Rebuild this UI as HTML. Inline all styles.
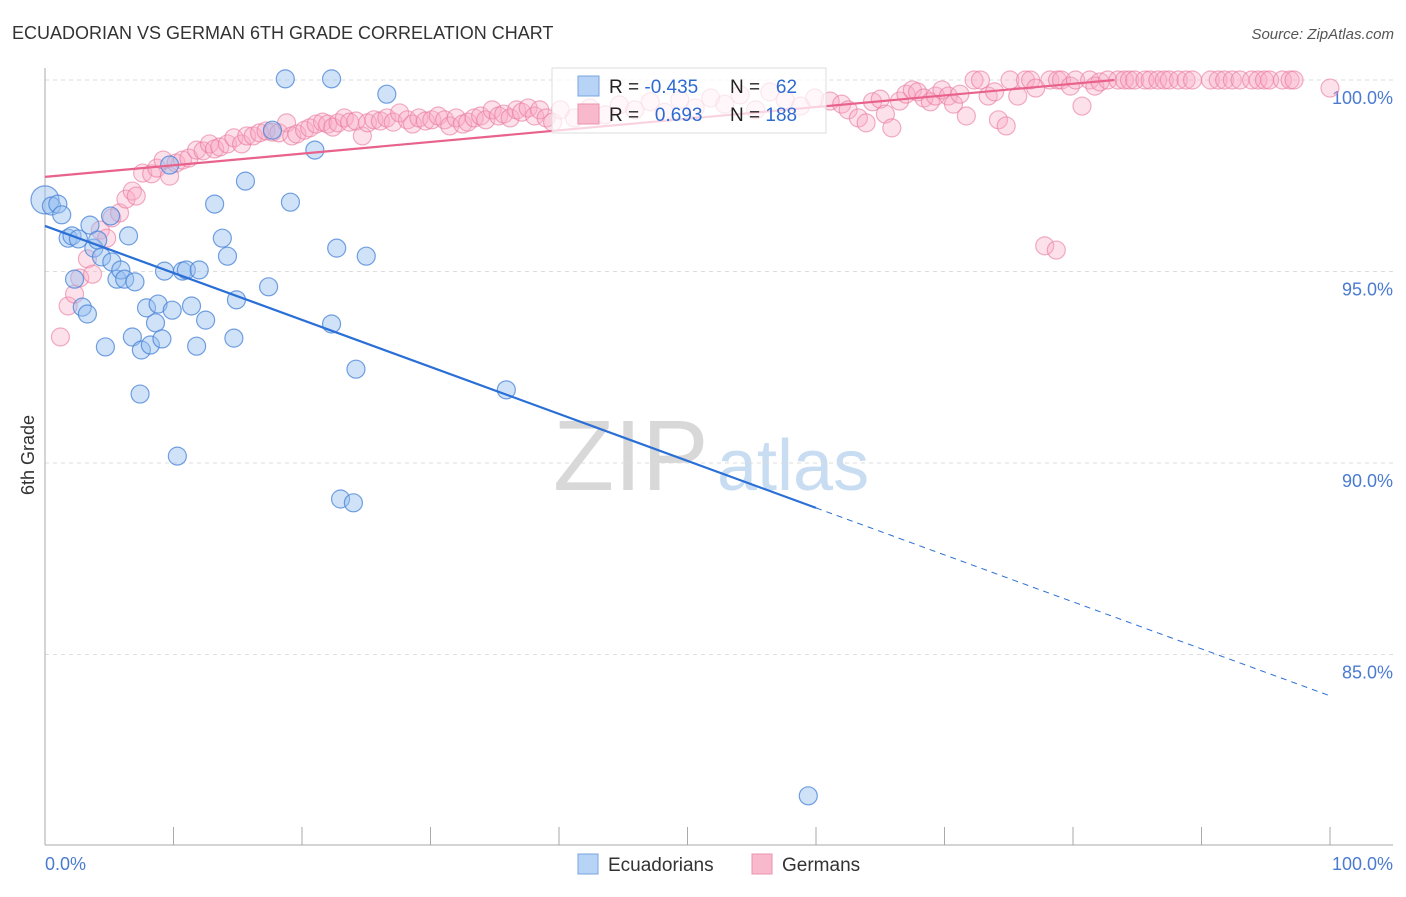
<!DOCTYPE html>
<html><head><meta charset="utf-8">
<style>
body{margin:0;background:#fff;font-family:"Liberation Sans",sans-serif;}
svg text{font-family:"Liberation Sans",sans-serif;}
</style></head>
<body>
<svg id="chart" width="1406" height="892" xmlns="http://www.w3.org/2000/svg">
<text x="12" y="39" font-size="18" fill="#333">ECUADORIAN VS GERMAN 6TH GRADE CORRELATION CHART</text>
<text x="1394" y="39" font-size="15" fill="#555" font-style="italic" text-anchor="end">Source: ZipAtlas.com</text>
<text transform="translate(34,455) rotate(-90)" font-size="18" fill="#333" text-anchor="middle">6th Grade</text>
<g>
<text x="553" y="490" font-size="100" fill="#d8d8d8" font-family="Liberation Serif, serif">ZIP</text>
<text x="717" y="490" font-size="72" fill="#c8dcf2">atlas</text>
</g>
<g id="grid"></g>
<g id="axes"></g>
<g id="pinkpts"></g>
<g id="bluepts"></g>
<g id="lines"></g>
<g>
<rect x="552" y="68" width="274" height="65" fill="#fff" fill-opacity="0.72" stroke="#ddd"/>
<rect x="578" y="76" width="21" height="20" fill="#b7d3f5" stroke="#7aa6e0"/>
<rect x="578" y="104" width="21" height="20" fill="#f9b9cc" stroke="#ec93b0"/>
<text x="609" y="93" font-size="19" fill="#222">R = <tspan fill="#2e6bd0">-0.435</tspan></text>
<text x="730" y="93" font-size="19" fill="#222">N = <tspan fill="#2e6bd0">&#160;&#160;62</tspan></text>
<text x="609" y="121" font-size="19" fill="#222">R = <tspan fill="#2e6bd0">&#160;&#160;0.693</tspan></text>
<text x="730" y="121" font-size="19" fill="#222">N = <tspan fill="#2e6bd0">188</tspan></text>
</g>
<g>
<rect x="578" y="854" width="20" height="20" fill="#b7d3f5" stroke="#7aa6e0"/>
<text x="608" y="871" font-size="19" fill="#333">Ecuadorians</text>
<rect x="752" y="854" width="20" height="20" fill="#f9b9cc" stroke="#ec93b0"/>
<text x="782" y="871" font-size="19" fill="#333">Germans</text>
</g>
</svg>
<script>
const yTicks=[100,95,90,85];
const yTickLabels=["100.0%","95.0%","90.0%","85.0%"];
const xTicks=[0,10,20,30,40,50,60,70,80,90,100];
const blueX=[0,0.5,1.0,1.3,1.8,2.1,2.6,2.3,2.9,3.3,3.5,3.8,4.1,4.4,4.7,5.1,5.2,5.6,5.9,6.2,6.5,7.0,6.8,7.5,7.4,7.9,8.2,8.6,8.8,9.1,9.3,9.7,9.9,10.3,10.7,11.0,11.4,11.8,12.0,12.5,13.2,13.8,14.2,14.7,14.9,15.6,17.4,17.7,18.7,19.1,21.0,22.3,22.3,22.7,23.0,24.0,24.2,25.0,26.6,35.9,59.4];
const blueY=[96.87,96.71,96.76,96.48,95.87,95.93,95.85,94.80,94.07,93.89,96.21,95.61,95.82,95.38,93.03,96.45,95.25,94.80,95.04,94.80,95.93,94.73,93.29,92.95,91.80,94.05,93.08,93.66,94.15,93.24,95.01,97.78,93.99,90.18,95.01,95.04,94.10,93.05,95.04,93.73,96.76,95.87,95.40,93.26,94.26,97.36,94.60,98.69,100.03,96.81,98.17,100.03,93.63,95.61,89.06,88.96,92.45,95.40,99.63,91.91,81.31];
const pinkX=[1.2,1.8,2.3,2.7,3.3,3.7,4.3,4.8,5.2,5.8,6.3,6.8,7.1,7.6,8.3,8.7,9.2,9.7,10.2,10.7,11.2,11.8,12.3,12.8,13.2,13.6,14.2,14.7,15.3,15.7,16.2,16.7,17.2,17.7,18.2,18.8,19.2,19.6,20.2,20.6,21.1,21.6,22.0,22.4,22.8,23.3,23.7,24.2,24.7,25.1,25.6,26.1,26.6,27.1,27.6,28.2,28.6,29.1,29.6,30.1,30.6,31.1,31.5,32.0,32.5,32.9,33.4,33.9,34.3,34.8,35.3,35.7,36.2,36.7,37.1,37.6,38.1,38.5,39.0,39.5,40.1,41.2,42.4,43.6,44.7,45.9,47.1,48.2,49.4,50.6,51.8,52.9,54.1,55.3,56.4,57.6,58.8,59.9,61.1,62.0,62.5,63.3,63.9,64.4,65.0,65.4,65.9,66.5,67.0,67.5,67.9,68.4,68.9,69.3,69.8,70.3,70.7,71.2,71.7,72.3,72.8,73.4,73.9,74.2,74.8,75.1,75.7,76.3,76.7,77.1,77.8,78.7,78.2,78.8,79.1,79.8,80.2,80.7,81.3,81.7,82.1,82.7,83.5,84.0,84.4,84.8,85.6,86.0,86.6,87.1,87.5,88.2,88.8,89.3,90.7,91.3,91.8,92.4,93.0,93.9,94.4,94.9,95.3,96.3,96.9,97.2,100];
const pinkY=[93.29,94.10,94.41,94.83,95.33,94.93,96.08,95.87,96.40,96.53,96.89,97.10,96.97,97.57,97.55,97.70,97.91,97.49,97.83,97.91,97.96,98.17,98.15,98.33,98.20,98.25,98.33,98.49,98.33,98.54,98.54,98.62,98.67,98.64,98.62,98.88,98.54,98.59,98.69,98.75,98.85,98.90,98.85,98.77,98.88,99.01,98.90,98.93,98.54,98.88,98.96,98.93,99.01,98.90,99.14,98.96,98.85,99.01,98.93,98.96,99.06,98.96,98.80,99.01,98.85,98.90,99.01,99.06,98.96,99.22,99.06,99.11,99.01,99.22,99.16,99.27,99.06,99.22,99.01,98.90,99.22,99.01,99.27,99.09,99.35,99.22,99.43,99.16,99.48,99.27,99.53,99.37,99.61,99.22,99.69,99.48,99.32,99.53,99.45,99.37,99.22,99.01,98.88,99.43,99.50,99.11,98.75,99.45,99.63,99.74,99.69,99.53,99.43,99.58,99.74,99.58,99.37,99.63,99.06,100,100,99.58,99.69,98.96,98.80,100,99.58,100,100,99.79,95.67,95.56,100,100,100,99.84,100,99.32,100,99.84,99.95,100,100,100,100,100,100,100,100,100,100,100,100,100,100,100,100,100,100,100,100,100,100,100,100,100,99.79];
const blueFit=[96.19,-0.1227];
const pinkFit=[97.47,0.0304];
const X=v=>45+v*12.85;
const Y=v=>80+(100-v)*38.3;
const NS="http://www.w3.org/2000/svg";
function mk(t,a,p){const e=document.createElementNS(NS,t);for(const k in a)e.setAttribute(k,a[k]);p.appendChild(e);return e;}
const grid=document.getElementById('grid'),axes=document.getElementById('axes');
yTicks.forEach((t,i)=>{
 const l=mk('line',{x1:45,x2:1393,y1:Y(t),y2:Y(t),stroke:'#ddd','stroke-dasharray':'4,4'},grid);
 
 
 const tx=mk('text',{x:1393,y:Y(t)+24,'font-size':18,fill:'#4a7bd0','text-anchor':'end'},axes);
 tx.textContent=yTickLabels[i];
 
 
});
const ya=mk('line',{x1:45,x2:45,y1:68,y2:845,stroke:'#aaa'},axes);


const xa=mk('line',{x1:45,x2:1393,y1:845,y2:845,stroke:'#aaa'},axes);


xTicks.forEach(t=>{
 const l=mk('line',{x1:X(t),x2:X(t),y1:827,y2:845,stroke:'#aaa'},axes);
 
 
});
const x0=mk('text',{x:45,y:870,'font-size':18,fill:'#4a7bd0'},axes);x0.textContent='0.0%';


const x1=mk('text',{x:1393,y:870,'font-size':18,fill:'#4a7bd0','text-anchor':'end'},axes);x1.textContent='100.0%';


const pg=document.getElementById('pinkpts');
const np=Math.min(pinkX.length,pinkY.length);
for(let i=0;i<np;i++){
 const c=mk('circle',{cx:X(pinkX[i]),cy:Y(pinkY[i]),r:9,fill:'rgba(248,168,195,0.35)',stroke:'rgba(232,120,158,0.6)','stroke-width':1.2},pg);
 
 
}
const bg=document.getElementById('bluepts');
blueX.forEach((v,i)=>{
 const c=mk('circle',{cx:X(v),cy:Y(blueY[i]),r:i===0?14:9,fill:'rgba(150,190,240,0.45)',stroke:'rgba(70,130,215,0.75)','stroke-width':1.2},bg);
 
 
});
const lg=document.getElementById('lines');
const bl=mk('line',{x1:X(0),y1:Y(blueFit[0]),x2:X(60),y2:Y(blueFit[0]+blueFit[1]*60),stroke:'#2a6fd6','stroke-width':2.2},lg);


const bd=mk('line',{x1:X(60),y1:Y(blueFit[0]+blueFit[1]*60),x2:X(100),y2:Y(blueFit[0]+blueFit[1]*100),stroke:'#2a6fd6','stroke-width':1,'stroke-dasharray':'6,5'},lg);


const pe=(100-pinkFit[0])/pinkFit[1];
const pl=mk('line',{x1:X(0),y1:Y(pinkFit[0]),x2:X(pe),y2:Y(100),stroke:'#e8628c','stroke-width':2.2},lg);


</script>
</body></html>
